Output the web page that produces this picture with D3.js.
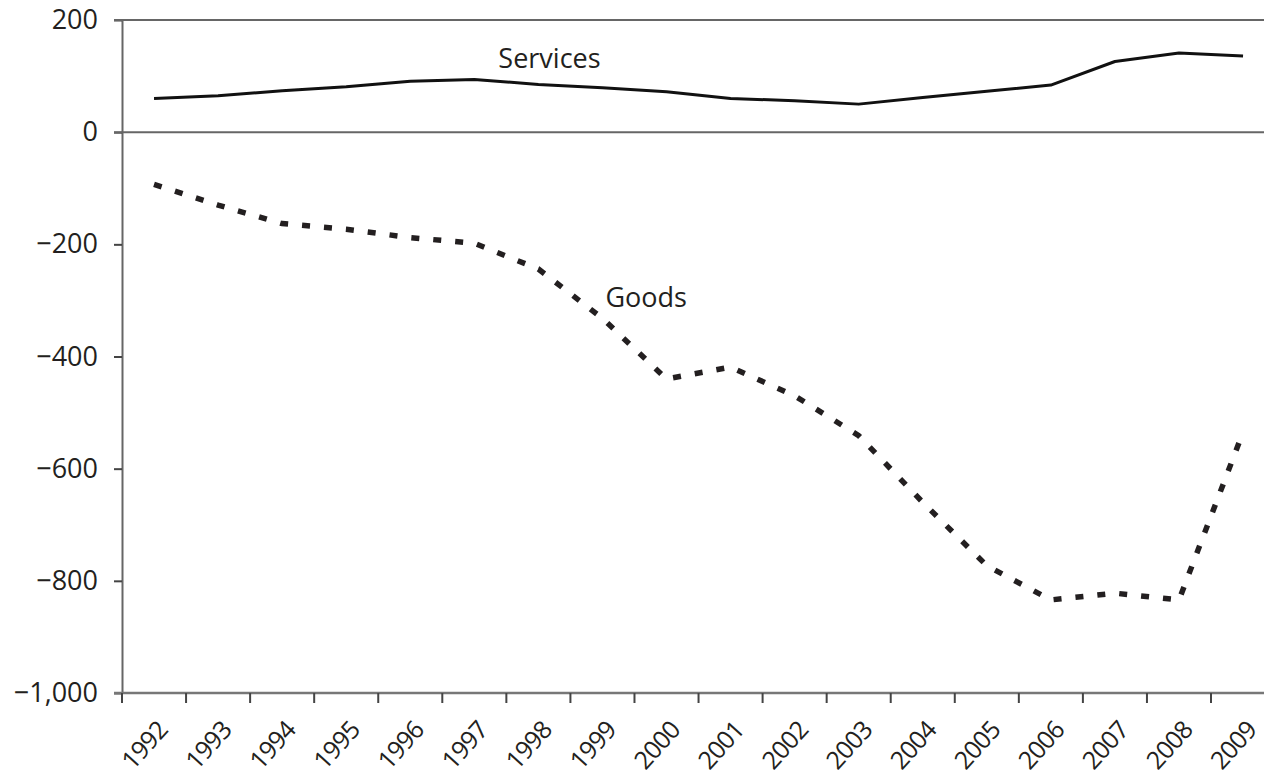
<!DOCTYPE html>
<html>
<head>
<meta charset="utf-8">
<script src="https://cdn.jsdelivr.net/npm/d3@7"></script>
<style>
  body { margin: 0; background: #fff; }
  text { font-family: "Open Sans", "Noto Sans", sans-serif; fill: #231f20; }
</style>
</head>
<body>
<div id="chart"></div>
<script>
// years on the x axis, one band per year
const years = ["1992","1993","1994","1995","1996","1997","1998","1999","2000",
               "2001","2002","2003","2004","2005","2006","2007","2008","2009"];

// values
const services = [60, 65, 74, 81, 91, 94, 85, 79, 72, 60, 56, 50, 62, 73, 84, 126, 141, 136];
const goods = [-93, -130, -163, -173, -188, -198, -244, -332, -440, -419, -470, -541,
               -660, -773, -834, -822, -834, -535];

const yTicks = [200, 0, -200, -400, -600, -800, -1000];

const width = 1264, height = 778;
const plotLeft = 122, plotBottom = 693, plotTop = 20;
const band = 64.06;

const svg = d3.select("#chart")
  .append("svg")
  .attr("width", width)
  .attr("height", height);

const x = d3.scaleBand()
  .domain(years)
  .range([plotLeft, plotLeft + band * years.length])
  .padding(0);

const y = d3.scaleLinear()
  .domain([-1000, 200])
  .range([plotBottom, plotTop]);

const cx = d => x(d) + x.bandwidth() / 2;

// y axis
const yAxis = svg.append("g")
  .attr("transform", `translate(${plotLeft},0)`)
  .call(d3.axisLeft(y).tickValues(yTicks).tickSize(8).tickSizeOuter(0).tickPadding(16)
    .tickFormat(d3.format(",")));
yAxis.select(".domain").attr("stroke", "#666").attr("stroke-width", 2);
yAxis.selectAll(".tick line").attr("stroke", "#444").attr("stroke-width", 2);
yAxis.selectAll(".tick text")
  .attr("font-size", "27px")
  .attr("fill", "#231f20");

// frame lines at 200 and 0
svg.selectAll("line.hline")
  .data([200, 0])
  .join("line")
  .attr("class", "hline")
  .attr("x1", plotLeft - 8)
  .attr("x2", width)
  .attr("y1", d => y(d))
  .attr("y2", d => y(d))
  .attr("stroke", "#666")
  .attr("stroke-width", 2);

// x axis
svg.append("line")
  .attr("x1", plotLeft - 8)
  .attr("x2", width)
  .attr("y1", y(-1000))
  .attr("y2", y(-1000))
  .attr("stroke", "#777")
  .attr("stroke-width", 2.5);

svg.selectAll("line.xtick")
  .data(years)
  .join("line")
  .attr("class", "xtick")
  .attr("x1", d => x(d))
  .attr("x2", d => x(d))
  .attr("y1", y(-1000))
  .attr("y2", y(-1000) + 10)
  .attr("stroke", "#444")
  .attr("stroke-width", 2);

svg.selectAll("text.xlabel")
  .data(years)
  .join("text")
  .attr("class", "xlabel")
  .attr("text-anchor", "end")
  .attr("font-size", "25px")
  .attr("letter-spacing", "-0.8px")
  .attr("transform", d => `translate(${cx(d) + 15},${y(-1000) + 38}) rotate(-48)`)
  .text(d => d);

// lines
const line = d3.line()
  .x((d, i) => cx(years[i]))
  .y(d => y(d));

svg.append("path")
  .datum(services)
  .attr("fill", "none")
  .attr("stroke", "#111")
  .attr("stroke-width", 3)
  .attr("stroke-linejoin", "round")
  .attr("d", line);

svg.append("path")
  .datum(goods)
  .attr("fill", "none")
  .attr("stroke", "#231f20")
  .attr("stroke-width", 5.5)
  .attr("stroke-dasharray", "8,14")
  .attr("d", line);

// series labels
svg.append("text")
  .attr("x", cx("1997") + 24)
  .attr("y", y(114))
  .attr("font-size", "27px")
  .text("Services");

svg.append("text")
  .attr("x", cx("1999") + 3)
  .attr("y", y(-312))
  .attr("font-size", "27px")
  .text("Goods");
</script>
</body>
</html>
